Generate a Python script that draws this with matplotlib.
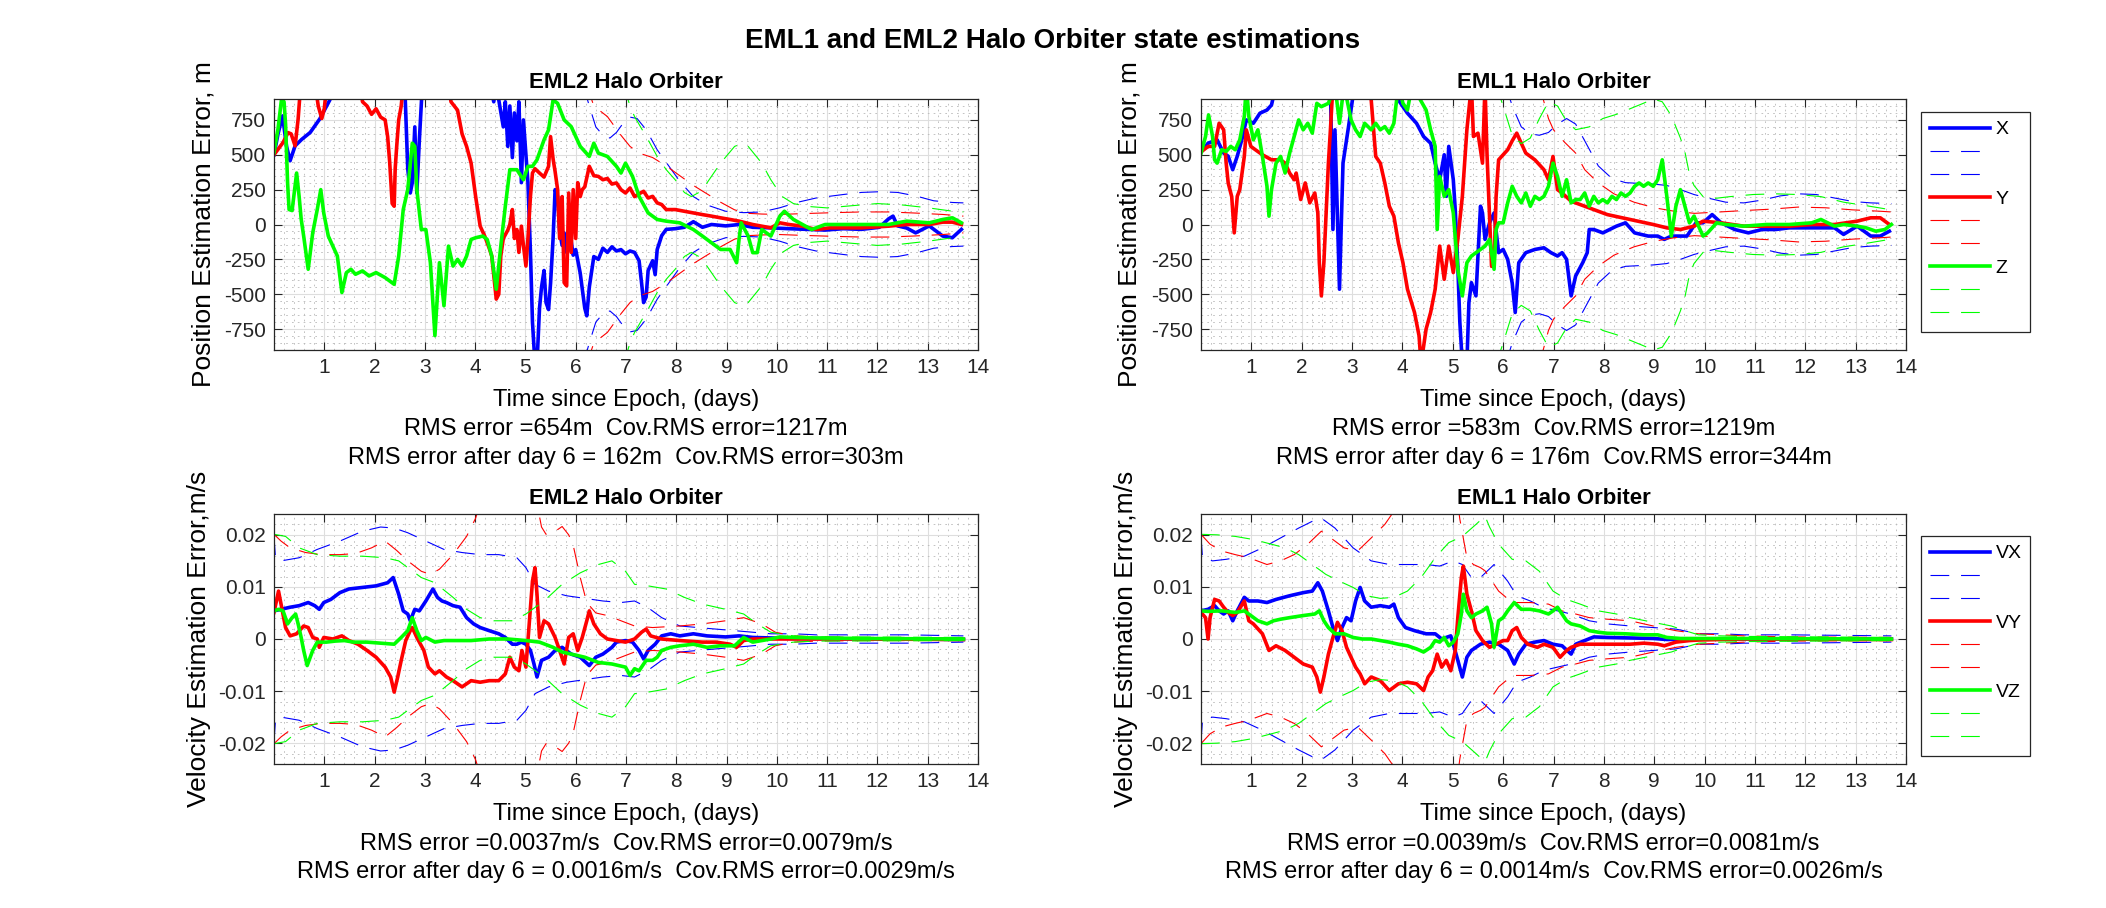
import matplotlib
matplotlib.use('Agg')
import matplotlib.pyplot as plt
import numpy as np
from matplotlib.ticker import MultipleLocator

plt.rcParams['font.family'] = ['Liberation Sans', 'DejaVu Sans']
plt.rcParams['lines.scale_dashes'] = False

# ---------------- data (time in days, value) ----------------
# EML2 position errors (m)
eml2_pos_x = [(0,500),(0.08,650),(0.17,779),(0.25,560),(0.32,457),(0.42,564),(0.55,610),(0.72,660),(0.91,757),(1.11,893),(1.2,1000),(2.6,1000),(2.66,400),(2.71,226),(2.75,300),(2.80,700),(2.84,226),(2.89,600),(2.95,1000),(4.3,1000),(4.37,880),(4.42,1000),(4.56,700),(4.60,880),(4.65,560),(4.69,850),(4.74,480),(4.78,800),(4.83,600),(4.87,880),(4.92,300),(4.96,750),(5.01,500),(5.05,300),(5.10,-200),(5.14,-700),(5.19,-1000),(5.23,-1000),(5.28,-600),(5.32,-450),(5.37,-330),(5.41,-560),(5.46,-610),(5.50,-420),(5.55,-100),(5.59,250),(5.64,200),(5.68,-50),(5.73,-150),(5.77,-60),(5.82,-200),(5.86,-180),(5.91,-120),(5.95,-220),(6.00,-180),(6.09,-350),(6.18,-600),(6.22,-655),(6.27,-450),(6.36,-230),(6.45,-250),(6.54,-170),(6.63,-200),(6.72,-160),(6.81,-190),(6.90,-180),(6.99,-210),(7.08,-190),(7.17,-200),(7.26,-260),(7.31,-420),(7.35,-560),(7.40,-520),(7.44,-330),(7.53,-260),(7.58,-360),(7.62,-180),(7.71,-80),(7.80,-35),(7.98,-30),(8.16,-20),(8.34,20),(8.52,-20),(8.70,0),(8.98,-10),(9.25,0),(9.52,-20),(9.88,-24),(10.24,-30),(10.6,-35),(10.96,-40),(11.32,-30),(11.68,-35),(12.04,-20),(12.22,40),(12.31,60),(12.40,-10),(12.58,-25),(12.76,-60),(13.03,-10),(13.30,-83),(13.49,-95),(13.67,-35)]
eml2_pos_y = [(0,500),(0.18,588),(0.28,659),(0.34,650),(0.42,564),(0.48,757),(0.53,1000),(0.82,1000),(0.88,850),(0.95,760),(1.0,830),(1.05,1000),(1.72,1000),(1.76,880),(1.85,850),(1.94,790),(2.03,830),(2.12,770),(2.21,750),(2.26,630),(2.30,450),(2.35,150),(2.39,131),(2.41,400),(2.44,560),(2.48,750),(2.53,850),(2.57,1000),(3.47,1000),(3.52,880),(3.65,820),(3.74,650),(3.83,560),(3.92,440),(4.01,200),(4.10,-12),(4.19,-83),(4.28,-170),(4.33,-226),(4.42,-535),(4.47,-500),(4.51,-226),(4.56,-100),(4.65,-40),(4.69,0),(4.74,107),(4.78,-100),(4.83,-36),(4.87,-200),(4.92,-12),(4.96,-150),(5.01,-298),(5.05,-100),(5.10,202),(5.14,369),(5.19,400),(5.28,369),(5.37,340),(5.46,417),(5.50,630),(5.55,470),(5.59,380),(5.64,250),(5.68,-100),(5.73,200),(5.77,-417),(5.82,-440),(5.86,226),(5.91,-200),(5.95,250),(6.00,-100),(6.04,300),(6.09,200),(6.13,250),(6.18,270),(6.27,417),(6.36,350),(6.45,345),(6.54,321),(6.63,330),(6.72,290),(6.81,298),(6.90,250),(6.99,226),(7.08,262),(7.17,200),(7.26,220),(7.35,238),(7.44,190),(7.53,202),(7.62,155),(7.71,143),(7.80,107),(7.98,107),(8.16,95),(8.34,83),(8.52,71),(8.70,60),(8.88,48),(9.07,36),(9.25,24),(9.52,0),(9.70,-12),(9.88,-24),(10.06,12),(10.24,0),(10.51,-12),(10.78,-36),(11.05,-24),(11.68,-24),(12.22,-12),(12.58,0),(13.03,0),(13.30,17),(13.49,17),(13.67,0)]
eml2_pos_z = [(0,516),(0.08,686),(0.15,900),(0.2,880),(0.23,720),(0.27,300),(0.30,107),(0.36,100),(0.41,250),(0.45,369),(0.50,200),(0.54,40),(0.59,-83),(0.68,-321),(0.77,-60),(0.86,107),(0.93,250),(0.99,80),(1.08,-83),(1.17,-155),(1.26,-226),(1.35,-488),(1.44,-345),(1.53,-321),(1.62,-357),(1.76,-333),(1.89,-369),(2.03,-345),(2.21,-381),(2.39,-429),(2.48,-226),(2.57,107),(2.66,250),(2.75,583),(2.80,560),(2.84,250),(2.93,-36),(3.02,-36),(3.11,-274),(3.20,-797),(3.29,-274),(3.38,-583),(3.47,-155),(3.56,-298),(3.65,-250),(3.74,-298),(3.83,-226),(3.92,-107),(4.01,-95),(4.15,-83),(4.24,-107),(4.33,-226),(4.42,-464),(4.51,-155),(4.60,131),(4.69,393),(4.83,393),(4.96,321),(5.05,417),(5.14,417),(5.23,464),(5.37,607),(5.46,679),(5.55,893),(5.64,869),(5.77,750),(5.91,702),(6.09,560),(6.27,488),(6.36,583),(6.45,512),(6.63,488),(6.81,417),(6.90,369),(6.99,440),(7.13,345),(7.26,202),(7.44,83),(7.62,36),(7.80,24),(8.07,12),(8.34,-36),(8.52,-83),(8.70,-131),(8.88,-179),(9.07,-179),(9.20,-274),(9.25,-100),(9.29,12),(9.43,-83),(9.52,-202),(9.61,-202),(9.70,-36),(9.88,-83),(10.06,60),(10.15,95),(10.33,36),(10.51,0),(10.69,-36),(10.96,0),(11.68,0),(12.22,0),(12.58,24),(13.03,12),(13.30,36),(13.49,48),(13.67,12)]
# EML2 position 1-sigma (m), drawn as +/- bounds
eml2_pos_sx = [(6.15,1000),(6.27,850),(6.40,700),(6.54,640),(6.68,620),(6.81,660),(6.95,730),(7.08,770),(7.22,760),(7.40,680),(7.62,536),(7.89,400),(8.07,310),(8.34,200),(8.61,140),(8.98,95),(9.34,85),(9.70,90),(10.06,120),(10.42,160),(10.78,190),(11.32,215),(11.68,230),(12.04,235),(12.40,230),(12.76,205),(13.12,170),(13.49,158),(13.71,155)]
eml2_pos_sy = [(6.22,1000),(6.36,850),(6.63,774),(6.90,640),(7.08,560),(7.26,512),(7.53,480),(7.80,420),(8.07,350),(8.34,280),(8.61,220),(8.88,160),(9.16,105),(9.43,80),(9.70,75),(10.06,72),(10.51,78),(11.14,85),(11.68,90),(12.22,90),(12.76,82),(13.30,72),(13.71,60)]
eml2_pos_sz = [(6.95,1000),(7.08,850),(7.17,774),(7.44,607),(7.62,488),(7.80,393),(7.98,320),(8.16,230),(8.30,200),(8.45,230),(8.61,298),(8.88,440),(9.16,560),(9.30,580),(9.43,560),(9.70,440),(9.88,321),(10.10,202),(10.33,150),(10.60,130),(11.0,119),(11.5,135),(12.0,150),(12.5,140),(13.0,120),(13.5,95),(13.71,90)]

# EML1 position errors (m)
eml1_pos_x = [(0,520),(0.14,583),(0.32,607),(0.45,512),(0.54,490),(0.63,393),(0.72,490),(0.81,607),(0.90,750),(1.04,726),(1.17,798),(1.31,821),(1.40,857),(1.49,1000),(2.57,1000),(2.62,-36),(2.66,679),(2.75,-464),(2.82,440),(2.93,702),(3.05,1000),(3.88,1000),(3.92,893),(4.10,798),(4.28,726),(4.42,631),(4.56,583),(4.65,440),(4.74,321),(4.83,500),(4.87,202),(4.92,560),(5.01,321),(5.05,100),(5.10,-300),(5.14,-700),(5.19,-1000),(5.28,-1000),(5.32,-560),(5.37,-417),(5.46,-512),(5.55,131),(5.59,83),(5.64,-107),(5.73,12),(5.82,83),(5.91,-202),(6.00,-179),(6.09,-250),(6.18,-420),(6.24,-631),(6.31,-274),(6.45,-202),(6.63,-179),(6.81,-167),(6.95,-202),(7.08,-226),(7.17,-202),(7.26,-250),(7.35,-512),(7.44,-369),(7.58,-274),(7.67,-202),(7.71,-36),(7.80,-36),(7.98,-60),(8.25,-12),(8.43,12),(8.61,-60),(8.88,-83),(9.07,-83),(9.20,-107),(9.34,-83),(9.52,-83),(9.65,-83),(9.83,12),(9.97,12),(10.15,71),(10.33,12),(10.60,-36),(10.87,-60),(11.14,-36),(11.41,-36),(11.68,-24),(12.13,-24),(12.58,-24),(12.76,-71),(13.03,-12),(13.30,-83),(13.49,-83),(13.67,-48)]
eml1_pos_y = [(0,520),(0.14,560),(0.27,560),(0.36,726),(0.45,679),(0.50,440),(0.54,298),(0.61,200),(0.66,-60),(0.72,202),(0.77,250),(0.86,488),(0.90,679),(0.99,560),(1.08,536),(1.22,500),(1.40,464),(1.58,464),(1.67,440),(1.76,369),(1.85,321),(1.89,369),(1.98,179),(2.07,298),(2.16,155),(2.26,226),(2.32,83),(2.35,-274),(2.39,-512),(2.44,-274),(2.53,440),(2.57,679),(2.62,1000),(3.34,1000),(3.38,893),(3.47,488),(3.56,440),(3.65,298),(3.74,131),(3.83,60),(3.92,-131),(4.01,-274),(4.10,-464),(4.24,-631),(4.33,-798),(4.37,-1000),(4.47,-750),(4.56,-631),(4.65,-464),(4.74,-155),(4.83,-393),(4.92,-155),(5.01,-345),(5.10,-107),(5.19,202),(5.28,679),(5.37,1000),(5.41,631),(5.50,655),(5.59,440),(5.64,1000),(5.68,500),(5.77,-300),(5.82,-274),(5.86,200),(5.91,464),(6.09,536),(6.18,600),(6.27,655),(6.36,583),(6.45,512),(6.63,464),(6.81,393),(6.90,321),(6.99,488),(7.08,250),(7.17,226),(7.35,167),(7.62,131),(8.07,71),(8.52,36),(8.98,0),(9.25,-24),(9.52,-36),(9.79,-12),(9.97,24),(10.33,12),(10.78,-12),(11.23,-12),(11.68,-12),(12.13,0),(12.58,0),(13.03,24),(13.30,48),(13.49,48),(13.67,0)]
eml1_pos_z = [(0,510),(0.09,631),(0.15,786),(0.23,631),(0.27,464),(0.32,440),(0.41,536),(0.50,524),(0.59,560),(0.68,536),(0.77,607),(0.86,774),(0.90,1000),(0.95,774),(1.04,607),(1.13,679),(1.22,488),(1.31,274),(1.35,60),(1.40,250),(1.49,440),(1.58,488),(1.67,369),(1.76,512),(1.85,631),(1.94,750),(2.03,679),(2.12,726),(2.21,655),(2.30,869),(2.39,845),(2.53,869),(2.66,1000),(2.75,726),(2.84,1000),(2.98,750),(3.07,679),(3.16,631),(3.25,726),(3.38,679),(3.47,726),(3.56,679),(3.65,702),(3.74,655),(3.83,726),(3.92,1000),(4.01,869),(4.10,821),(4.19,1000),(4.47,821),(4.56,679),(4.65,560),(4.69,-36),(4.74,345),(4.83,202),(4.92,250),(5.01,83),(5.10,-321),(5.19,-512),(5.28,-274),(5.37,-226),(5.46,-202),(5.55,-179),(5.64,-155),(5.73,-107),(5.82,-321),(5.86,-36),(5.91,12),(6.00,12),(6.09,155),(6.18,274),(6.27,202),(6.36,155),(6.45,226),(6.54,131),(6.63,202),(6.72,179),(6.81,202),(6.90,274),(6.99,440),(7.08,345),(7.17,202),(7.26,321),(7.35,155),(7.44,179),(7.53,179),(7.62,226),(7.71,131),(7.80,202),(7.89,155),(7.98,179),(8.07,155),(8.16,202),(8.25,179),(8.34,226),(8.43,202),(8.52,226),(8.61,274),(8.70,298),(8.79,274),(8.88,298),(8.98,274),(9.07,321),(9.16,464),(9.25,202),(9.34,-83),(9.43,131),(9.52,250),(9.61,131),(9.70,12),(9.79,60),(9.88,-12),(9.97,-83),(10.06,-60),(10.24,12),(10.42,0),(10.78,-12),(11.23,0),(11.68,0),(12.13,12),(12.31,36),(12.58,-12),(12.76,0),(13.03,-12),(13.21,-24),(13.40,-48),(13.58,-36),(13.71,0)]
eml1_pos_sx = [(6.05,1000),(6.18,850),(6.36,700),(6.54,650),(6.72,640),(6.90,660),(7.08,720),(7.26,760),(7.44,720),(7.62,600),(7.89,420),(8.16,330),(8.43,300),(8.70,295),(8.98,290),(9.25,280),(9.52,250),(9.79,215),(10.06,190),(10.42,160),(10.78,155),(11.14,175),(11.50,205),(11.86,220),(12.22,215),(12.58,190),(12.94,165),(13.30,155),(13.71,150)]
eml1_pos_sy = [(6.72,1000),(6.90,760),(7.00,679),(7.22,590),(7.44,512),(7.62,393),(7.89,298),(8.20,220),(8.60,160),(9.00,120),(9.40,95),(9.80,80),(10.30,90),(10.78,100),(11.32,110),(11.86,125),(12.40,120),(12.94,105),(13.49,95),(13.71,90)]
eml1_pos_sz = [(5.86,1000),(6.00,850),(6.18,640),(6.36,580),(6.54,620),(6.72,760),(6.90,880),(7.08,850),(7.26,740),(7.44,680),(7.71,700),(7.98,760),(8.25,790),(8.52,830),(8.79,870),(8.98,900),(9.16,880),(9.34,780),(9.52,620),(9.61,520),(9.70,360),(9.79,280),(9.97,200),(10.15,185),(10.51,200),(10.96,215),(11.41,220),(11.86,215),(12.31,200),(12.76,160),(13.21,135),(13.71,105)]

# EML2 velocity errors (m/s)
eml2_vel_x = [(0,0.0054),(0.14,0.0057),(0.32,0.0061),(0.50,0.0064),(0.68,0.0070),(0.81,0.0064),(0.90,0.0057),(0.99,0.0070),(1.13,0.0076),(1.31,0.0089),(1.49,0.0096),(1.76,0.0099),(2.03,0.0102),(2.26,0.0108),(2.37,0.0118),(2.48,0.0086),(2.57,0.0054),(2.66,0.0048),(2.71,0.0035),(2.80,0.0057),(2.89,0.0054),(3.02,0.0073),(3.16,0.0096),(3.25,0.0080),(3.34,0.0073),(3.43,0.0070),(3.56,0.0064),(3.70,0.0061),(3.83,0.0041),(3.97,0.0029),(4.10,0.0022),(4.28,0.0016),(4.47,0.0010),(4.60,0.0003),(4.74,-0.0010),(4.83,-0.0010),(4.92,-0.0006),(5.01,-0.0010),(5.10,-0.0022),(5.17,-0.0048),(5.23,-0.0073),(5.32,-0.0041),(5.46,-0.0035),(5.59,-0.0022),(5.73,-0.0016),(5.91,-0.0029),(6.09,-0.0035),(6.27,-0.0051),(6.40,-0.0035),(6.54,-0.0029),(6.72,-0.0016),(6.81,-0.0006),(6.99,-0.0003),(7.13,-0.0006),(7.26,-0.0022),(7.35,-0.0038),(7.44,-0.0022),(7.58,-0.0010),(7.71,0.0006),(7.89,0.0010),(8.07,0.0006),(8.34,0.0010),(8.61,0.0006),(8.98,0.0004),(9.25,0.0006),(9.52,0.0003),(9.88,0.0002),(10.33,0.0001),(10.78,0.0001),(11.68,0.0),(12.58,0.0),(13.71,-0.0001)]
eml2_vel_y = [(0,0.0051),(0.09,0.0092),(0.14,0.0067),(0.23,0.0022),(0.32,0.0006),(0.45,0.0010),(0.59,0.0025),(0.68,0.0022),(0.77,0.0003),(0.86,0.0),(0.90,-0.0016),(0.99,0.0003),(1.17,0.0),(1.35,0.0006),(1.49,-0.0003),(1.67,-0.0010),(1.85,-0.0022),(2.03,-0.0035),(2.21,-0.0054),(2.32,-0.0073),(2.39,-0.0102),(2.46,-0.0073),(2.53,-0.0041),(2.62,-0.0003),(2.71,0.0016),(2.75,0.0022),(2.84,0.0003),(2.98,-0.0022),(3.07,-0.0054),(3.20,-0.0067),(3.29,-0.0061),(3.43,-0.0073),(3.56,-0.0080),(3.74,-0.0092),(3.92,-0.0080),(4.10,-0.0083),(4.28,-0.0080),(4.47,-0.0080),(4.60,-0.0067),(4.69,-0.0035),(4.78,-0.0054),(4.87,-0.0061),(4.93,-0.0022),(5.01,-0.0054),(5.08,0.0035),(5.14,0.0111),(5.19,0.0137),(5.23,0.0086),(5.28,0.0003),(5.37,0.0035),(5.46,0.0029),(5.59,0.0003),(5.68,-0.0022),(5.77,-0.0048),(5.86,0.0003),(5.95,0.0010),(6.04,-0.0022),(6.13,0.0003),(6.22,0.0035),(6.27,0.0054),(6.36,0.0029),(6.49,0.0010),(6.63,0.0),(6.81,-0.0003),(6.99,-0.0006),(7.17,0.0),(7.31,0.0013),(7.40,0.0019),(7.49,0.0006),(7.71,0.0),(8.07,-0.0003),(8.52,-0.0006),(8.79,-0.0006),(9.07,-0.0010),(9.20,-0.0016),(9.34,-0.0003),(9.52,0.0),(9.88,0.0),(10.33,0.0),(11.68,0.0),(13.71,-0.0001)]
eml2_vel_z = [(0,0.0054),(0.09,0.0057),(0.18,0.0054),(0.27,0.0029),(0.36,0.0041),(0.43,0.0048),(0.48,0.0029),(0.54,0.0003),(0.59,-0.0022),(0.66,-0.0051),(0.77,-0.0022),(0.86,-0.0006),(1.04,-0.0006),(1.22,-0.0004),(1.40,-0.0003),(1.58,-0.0006),(1.85,-0.0006),(2.12,-0.0008),(2.39,-0.0010),(2.53,0.0003),(2.66,0.0016),(2.75,0.0041),(2.84,0.0016),(2.93,-0.0003),(3.02,0.0003),(3.20,-0.0006),(3.38,-0.0003),(3.56,-0.0003),(3.92,-0.0003),(4.28,0.0),(4.65,0.0),(5.01,-0.0003),(5.28,-0.0006),(5.55,-0.0016),(5.73,-0.0025),(5.91,-0.0029),(6.18,-0.0035),(6.45,-0.0045),(6.72,-0.0048),(6.99,-0.0054),(7.08,-0.0070),(7.17,-0.0057),(7.26,-0.0061),(7.40,-0.0041),(7.53,-0.0041),(7.62,-0.0035),(7.71,-0.0022),(7.89,-0.0016),(8.07,-0.0013),(8.34,-0.0010),(8.61,-0.0016),(8.88,-0.0013),(9.16,-0.0013),(9.34,0.0003),(9.52,-0.0006),(9.70,-0.0003),(9.88,0.0),(10.06,0.0004),(10.33,0.0003),(10.78,0.0002),(11.68,0.0001),(13.71,0.0)]
eml2_vel_sx = [(0,0.0197),(0.03,0.0155),(0.14,0.0150),(0.50,0.0156),(0.86,0.0172),(1.31,0.0188),(1.76,0.0207),(2.12,0.0215),(2.39,0.0213),(2.66,0.0204),(3.02,0.0188),(3.38,0.0172),(3.74,0.0166),(4.10,0.0162),(4.47,0.0162),(4.83,0.0156),(5.01,0.0137),(5.19,0.0105),(5.46,0.0092),(5.82,0.0083),(6.18,0.0078),(6.54,0.0073),(6.90,0.0070),(7.17,0.0073),(7.44,0.0060),(7.71,0.0041),(8.07,0.0025),(8.43,0.0022),(8.79,0.0019),(9.16,0.0016),(9.52,0.0013),(9.88,0.0010),(10.33,0.0010),(10.78,0.0008),(11.68,0.0008),(12.58,0.0008),(13.71,0.0006)]
eml2_vel_sy = [(0,0.0201),(0.14,0.0188),(0.32,0.0175),(0.63,0.0166),(0.95,0.0162),(1.31,0.0162),(1.62,0.0164),(1.94,0.0175),(2.21,0.0188),(2.44,0.0170),(2.66,0.0150),(2.93,0.0130),(3.11,0.0124),(3.29,0.0134),(3.56,0.0162),(3.83,0.0197),(4.01,0.0232),(4.10,0.0260),(5.23,0.0260),(5.32,0.0215),(5.41,0.0201),(5.55,0.0204),(5.73,0.0216),(5.86,0.0200),(5.95,0.0180),(6.09,0.0118),(6.22,0.0070),(6.40,0.0050),(6.63,0.0045),(6.90,0.0035),(7.17,0.0025),(7.53,0.0022),(8.07,0.0025),(8.52,0.0029),(8.98,0.0035),(9.34,0.0041),(9.70,0.0029),(9.97,0.0013),(10.33,0.0006),(10.78,0.0004),(11.68,0.0003),(12.58,0.0003),(13.71,0.0002)]
eml2_vel_sz = [(0,0.0201),(0.23,0.0197),(0.50,0.0175),(0.86,0.0162),(1.31,0.0159),(1.76,0.0159),(2.21,0.0156),(2.48,0.0150),(2.66,0.0137),(2.93,0.0118),(3.20,0.0108),(3.56,0.0080),(3.83,0.0057),(4.10,0.0041),(4.37,0.0035),(4.74,0.0035),(5.01,0.0048),(5.37,0.0073),(5.73,0.0105),(6.09,0.0127),(6.45,0.0143),(6.72,0.0150),(6.99,0.0130),(7.17,0.0105),(7.44,0.0102),(7.80,0.0096),(8.16,0.0080),(8.52,0.0067),(8.98,0.0057),(9.34,0.0048),(9.61,0.0029),(9.88,0.0013),(10.33,0.0006),(10.78,0.0004),(13.71,0.0003)]

# EML1 velocity errors (m/s)
eml1_vel_x = [(0,0.0054),(0.14,0.0057),(0.27,0.0064),(0.36,0.0054),(0.45,0.0048),(0.54,0.0054),(0.63,0.0035),(0.72,0.0054),(0.86,0.0080),(0.95,0.0073),(1.13,0.0073),(1.31,0.0070),(1.49,0.0076),(1.76,0.0083),(2.03,0.0089),(2.21,0.0092),(2.32,0.0108),(2.41,0.0092),(2.53,0.0054),(2.62,0.0022),(2.71,-0.0003),(2.80,0.0022),(2.89,0.0041),(2.98,0.0035),(3.07,0.0073),(3.16,0.0099),(3.25,0.0073),(3.38,0.0061),(3.56,0.0064),(3.74,0.0061),(3.83,0.0067),(3.92,0.0041),(4.06,0.0022),(4.24,0.0016),(4.47,0.0010),(4.65,0.0010),(4.78,0.0),(4.87,0.0003),(4.96,0.0006),(5.01,-0.0010),(5.10,-0.0041),(5.19,-0.0073),(5.28,-0.0035),(5.37,-0.0022),(5.55,-0.0010),(5.73,-0.0006),(5.91,-0.0010),(6.09,-0.0022),(6.22,-0.0048),(6.31,-0.0029),(6.45,-0.0010),(6.63,-0.0006),(6.81,-0.0003),(6.99,-0.0010),(7.17,-0.0013),(7.35,-0.0029),(7.44,-0.0010),(7.62,-0.0003),(7.80,0.0004),(8.07,0.0003),(8.52,0.0002),(8.98,0.0001),(9.25,-0.0001),(9.88,0.0),(13.71,0.0)]
eml1_vel_y = [(0,0.0051),(0.09,0.0041),(0.14,0.0),(0.18,0.0041),(0.27,0.0076),(0.36,0.0073),(0.45,0.0061),(0.54,0.0051),(0.63,0.0045),(0.72,0.0051),(0.86,0.0073),(0.95,0.0035),(1.04,0.0029),(1.22,0.0010),(1.35,-0.0022),(1.49,-0.0013),(1.67,-0.0022),(1.85,-0.0035),(2.03,-0.0048),(2.21,-0.0054),(2.30,-0.0073),(2.37,-0.0102),(2.44,-0.0073),(2.53,-0.0029),(2.62,0.0003),(2.71,0.0032),(2.80,0.0016),(2.89,-0.0016),(2.98,-0.0035),(3.07,-0.0054),(3.16,-0.0067),(3.25,-0.0086),(3.38,-0.0073),(3.56,-0.0080),(3.74,-0.0099),(3.92,-0.0086),(4.10,-0.0083),(4.28,-0.0086),(4.42,-0.0099),(4.51,-0.0073),(4.60,-0.0061),(4.69,-0.0029),(4.78,-0.0054),(4.87,-0.0041),(4.96,-0.0061),(5.05,-0.0022),(5.10,0.0041),(5.17,0.0118),(5.21,0.0140),(5.28,0.0086),(5.37,0.0054),(5.46,0.0016),(5.59,-0.0003),(5.73,-0.0016),(5.86,-0.0010),(6.00,-0.0003),(6.09,-0.0003),(6.18,0.0016),(6.27,0.0022),(6.36,0.0003),(6.49,-0.0010),(6.68,-0.0016),(6.81,-0.0010),(6.99,-0.0016),(7.13,-0.0035),(7.26,-0.0022),(7.35,-0.0016),(7.53,-0.0010),(7.71,-0.0010),(8.07,-0.0010),(8.52,-0.0010),(8.79,-0.0008),(9.07,-0.0010),(9.20,-0.0013),(9.43,-0.0006),(9.70,-0.0003),(9.88,-0.0002),(10.78,0.0),(13.71,-0.0001)]
eml1_vel_z = [(0,0.0054),(0.14,0.0053),(0.41,0.0054),(0.68,0.0051),(0.86,0.0054),(0.99,0.0045),(1.13,0.0035),(1.31,0.0029),(1.44,0.0035),(1.58,0.0038),(1.76,0.0041),(2.03,0.0045),(2.26,0.0048),(2.35,0.0054),(2.44,0.0035),(2.53,0.0022),(2.66,0.0010),(2.84,0.0010),(3.02,0.0003),(3.20,0.0),(3.38,0.0),(3.56,-0.0003),(3.74,-0.0006),(3.92,-0.0010),(4.10,-0.0013),(4.28,-0.0019),(4.42,-0.0025),(4.56,-0.0016),(4.65,-0.0003),(4.74,-0.0006),(4.83,0.0003),(4.92,-0.0013),(5.01,-0.0006),(5.10,0.0010),(5.17,0.0048),(5.21,0.0086),(5.28,0.0054),(5.37,0.0041),(5.46,0.0048),(5.59,0.0054),(5.68,0.0061),(5.77,0.0029),(5.82,-0.0016),(5.91,0.0035),(6.00,0.0041),(6.09,0.0054),(6.22,0.0070),(6.36,0.0057),(6.54,0.0057),(6.72,0.0054),(6.90,0.0048),(6.99,0.0054),(7.08,0.0061),(7.17,0.0048),(7.26,0.0035),(7.35,0.0029),(7.53,0.0025),(7.71,0.0016),(7.89,0.0013),(8.07,0.0011),(8.43,0.0010),(8.79,0.0008),(9.07,0.0008),(9.25,0.0003),(9.52,0.0001),(9.88,0.0001),(10.78,0.0001),(13.71,0.0)]
eml1_vel_sx = [(0,0.0197),(0.03,0.0155),(0.23,0.0150),(0.50,0.0153),(0.86,0.0159),(1.22,0.0175),(1.58,0.0194),(1.94,0.0213),(2.21,0.0226),(2.39,0.0232),(2.66,0.0213),(3.02,0.0175),(3.38,0.0150),(3.74,0.0143),(4.10,0.0143),(4.47,0.0143),(4.74,0.0140),(5.01,0.0150),(5.19,0.0143),(5.37,0.0118),(5.55,0.0118),(5.82,0.0143),(6.09,0.0111),(6.27,0.0083),(6.54,0.0073),(6.81,0.0060),(7.08,0.0054),(7.35,0.0048),(7.71,0.0035),(8.07,0.0029),(8.52,0.0025),(8.98,0.0022),(9.43,0.0019),(9.88,0.0010),(10.33,0.0010),(10.78,0.0008),(11.68,0.0008),(13.71,0.0006)]
eml1_vel_sy = [(0,0.0201),(0.18,0.0182),(0.41,0.0169),(0.68,0.0162),(0.95,0.0156),(1.31,0.0143),(1.58,0.0150),(1.85,0.0162),(2.12,0.0182),(2.39,0.0207),(2.66,0.0188),(2.84,0.0175),(3.11,0.0169),(3.38,0.0194),(3.65,0.0220),(3.83,0.0245),(3.90,0.0260),(5.10,0.0260),(5.14,0.0230),(5.28,0.0156),(5.41,0.0143),(5.55,0.0137),(5.64,0.0131),(5.91,0.0092),(6.18,0.0070),(6.54,0.0070),(6.90,0.0067),(7.17,0.0054),(7.44,0.0048),(7.71,0.0041),(8.07,0.0038),(8.52,0.0035),(8.98,0.0025),(9.43,0.0016),(9.88,0.0010),(10.78,0.0006),(11.68,0.0004),(13.71,0.0003)]
eml1_vel_sz = [(0,0.0201),(0.32,0.0200),(0.68,0.0197),(1.04,0.0191),(1.40,0.0182),(1.67,0.0175),(1.94,0.0162),(2.21,0.0143),(2.48,0.0124),(2.75,0.0111),(3.02,0.0099),(3.29,0.0083),(3.56,0.0078),(3.83,0.0080),(4.10,0.0092),(4.37,0.0118),(4.65,0.0156),(4.92,0.0185),(5.19,0.0197),(5.46,0.0220),(5.64,0.0236),(5.73,0.0215),(5.91,0.0182),(6.18,0.0153),(6.45,0.0150),(6.72,0.0130),(6.99,0.0092),(7.26,0.0076),(7.53,0.0067),(7.89,0.0054),(8.25,0.0048),(8.52,0.0041),(8.98,0.0032),(9.34,0.0025),(9.61,0.0016),(9.88,0.0008),(10.33,0.0006),(10.78,0.0005),(13.71,0.0003)]

x_ticks = list(range(1, 15))
pos_ticks = [-750, -500, -250, 0, 250, 500, 750]
pos_ticklabels = ['-750', '-500', '-250', '0', '250', '500', '750']
vel_ticks = [-0.02, -0.01, 0, 0.01, 0.02]
vel_ticklabels = ['-0.02', '-0.01', '0', '0.01', '0.02']

pos_texts = {
    'EML2': ('RMS error =654m  Cov.RMS error=1217m', 'RMS error after day 6 = 162m  Cov.RMS error=303m'),
    'EML1': ('RMS error =583m  Cov.RMS error=1219m', 'RMS error after day 6 = 176m  Cov.RMS error=344m'),
}
vel_texts = {
    'EML2': ('RMS error =0.0037m/s  Cov.RMS error=0.0079m/s', 'RMS error after day 6 = 0.0016m/s  Cov.RMS error=0.0029m/s'),
    'EML1': ('RMS error =0.0039m/s  Cov.RMS error=0.0081m/s', 'RMS error after day 6 = 0.0014m/s  Cov.RMS error=0.0026m/s'),
}
pos_legend = ['X', '', '', 'Y', '', '', 'Z', '', '']
vel_legend = ['VX', '', '', 'VY', '', '', 'VZ', '', '']

# ---------------- figure ----------------
W, H = 2106, 908
fig = plt.figure(figsize=(W / 100, H / 100), dpi=100)
fig.patch.set_facecolor('white')

def fx(px):
    return px / W

def fy(py):
    return 1 - py / H

COLS = [(0, 0, 1), (1, 0, 0), (0, 1, 0)]
DASH = (0, (13.5, 8.5))

def make_axes(x0, x1, y0, y1):
    return fig.add_axes([fx(x0), fy(y1), (x1 - x0) / W, (y1 - y0) / H])

def style(ax, lim, ticks, labels, minor):
    ax.set_xlim(0, 14)
    ax.set_ylim(-lim, lim)
    ax.set_xticks(x_ticks)
    ax.set_xticklabels([str(v) for v in x_ticks])
    ax.xaxis.set_minor_locator(MultipleLocator(0.2))
    ax.set_yticks(ticks)
    ax.set_yticklabels(labels)
    ax.yaxis.set_minor_locator(MultipleLocator(minor))
    ax.tick_params(which='major', direction='in', length=6, width=0.8,
                   top=True, right=True, labelsize=15, pad=6, colors='#262626')
    ax.tick_params(which='minor', length=0, top=True, right=True)
    ax.grid(which='major', color='#dedede', lw=0.8, ls='-')
    ax.grid(which='minor', color='#b8b8b8', lw=0.6, ls=(0, (1.2, 3.0)))
    ax.set_axisbelow(True)
    for s in ax.spines.values():
        s.set_linewidth(0.9)
        s.set_color('#262626')

def draw(ax, errs, sigs):
    handles = []
    for e, s, c in zip(errs, sigs, COLS):
        te, ve = zip(*e)
        ts, vs = zip(*s)
        vs = np.array(vs)
        h1, = ax.plot(te, ve, color=c, lw=2.6, solid_joinstyle='round')
        h2, = ax.plot(ts, vs, color=c, lw=0.8, ls=DASH)
        h3, = ax.plot(ts, -vs, color=c, lw=0.8, ls=DASH)
        handles += [h1, h2, h3]
    return handles

panels = [
    ('EML2', 274, 978, 99, 350, 'pos'),
    ('EML1', 1201, 1906, 99, 350, 'pos'),
    ('EML2', 274, 978, 514, 764, 'vel'),
    ('EML1', 1201, 1906, 514, 764, 'vel'),
]
data = {
    ('EML2', 'pos'): ([eml2_pos_x, eml2_pos_y, eml2_pos_z], [eml2_pos_sx, eml2_pos_sy, eml2_pos_sz]),
    ('EML1', 'pos'): ([eml1_pos_x, eml1_pos_y, eml1_pos_z], [eml1_pos_sx, eml1_pos_sy, eml1_pos_sz]),
    ('EML2', 'vel'): ([eml2_vel_x, eml2_vel_y, eml2_vel_z], [eml2_vel_sx, eml2_vel_sy, eml2_vel_sz]),
    ('EML1', 'vel'): ([eml1_vel_x, eml1_vel_y, eml1_vel_z], [eml1_vel_sx, eml1_vel_sy, eml1_vel_sz]),
}

for name, x0, x1, y0, y1, kind in panels:
    ax = make_axes(x0, x1, y0, y1)
    errs, sigs = data[(name, kind)]
    hs = draw(ax, errs, sigs)
    cx = (x0 + x1) / 2
    if kind == 'pos':
        style(ax, 900, pos_ticks, pos_ticklabels, 50)
        lines = pos_texts[name]
        ylab = 'Position Estimation Error, m'
        ty, lab_y = 83, [400, 429, 458]
        labx = x0 - 71
        legend_labels = pos_legend
        leg_box = (1921, 112, 2030, 326)
    else:
        style(ax, 0.024, vel_ticks, vel_ticklabels, 0.002)
        lines = vel_texts[name]
        ylab = 'Velocity Estimation Error,m/s'
        ty, lab_y = 498, [814, 844, 872]
        labx = x0 - 75
        legend_labels = vel_legend
        leg_box = (1921, 536, 2030, 749)
    fig.text(fx(cx), fy(ty), name + ' Halo Orbiter', ha='center', va='center',
             fontsize=16, fontweight='bold')
    fig.text(fx(cx), fy(lab_y[0]), 'Time since Epoch, (days)', ha='center', va='center', fontsize=17)
    fig.text(fx(cx), fy(lab_y[1]), lines[0], ha='center', va='center', fontsize=17)
    fig.text(fx(cx), fy(lab_y[2]), lines[1], ha='center', va='center', fontsize=17)
    fig.text(fx(labx), fy((y0 + y1) / 2), ylab, rotation=90, ha='center', va='center', fontsize=19)
    if name == 'EML1':
        bx0, by0, bx1, by1 = leg_box
        leg = fig.legend(hs, legend_labels, loc='upper left',
                         bbox_to_anchor=(fx(bx0), fy(by0), (bx1 - bx0) / W, 0.0),
                         bbox_transform=fig.transFigure, mode='expand',
                         fontsize=14, handlelength=3.1, handletextpad=0.3,
                         labelspacing=0.28, borderpad=0.45, borderaxespad=0,
                         fancybox=False, framealpha=1, edgecolor='#262626')
        leg.get_frame().set_linewidth(0.9)

fig.text(fx(1053), fy(41), 'EML1 and EML2 Halo Orbiter state estimations', ha='center', va='center',
         fontsize=20, fontweight='bold')

fig.savefig('out.png', dpi=100)
